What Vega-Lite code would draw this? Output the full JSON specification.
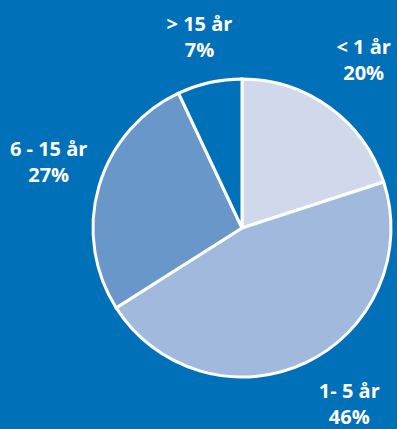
{
  "$schema": "https://vega.github.io/schema/vega-lite/v6.json",
  "width": 300,
  "height": 300,
  "autosize": {"type": "none"},
  "padding": {"left": 92, "top": 78, "right": 5, "bottom": 51},
  "background": "#0070b8",
  "config": {
    "view": {"stroke": null},
    "text": {"font": "Open Sans", "fontWeight": "bold", "fontSize": 20, "lineHeight": 26, "color": "white", "baseline": "middle", "align": "center", "dy": -13}
  },
  "data": {
    "values": [
      {"group": "< 1 år", "pct": 20, "ord": 1, "lbl": ["< 1 år", "20%"]},
      {"group": "1- 5 år", "pct": 46, "ord": 2, "lbl": ["1- 5 år", "46%"]},
      {"group": "6 - 15 år", "pct": 27, "ord": 3, "lbl": ["6 - 15 år", "27%"]},
      {"group": "> 15 år", "pct": 7, "ord": 4, "lbl": ["> 15 år", "7%"]}
    ]
  },
  "encoding": {
    "theta": {"field": "pct", "type": "quantitative", "stack": true},
    "order": {"field": "ord", "type": "quantitative"},
    "text": {"field": "lbl"}
  },
  "layer": [
    {
      "mark": {"type": "arc", "outerRadius": 149, "stroke": "white", "strokeWidth": 3},
      "encoding": {
        "text": null,
        "color": {
          "field": "group",
          "type": "nominal",
          "scale": {
            "domain": ["< 1 år", "1- 5 år", "6 - 15 år", "> 15 år"],
            "range": ["#d0d9ec", "#a1b9dd", "#6a97ca", "#0071b9"]
          },
          "legend": null
        }
      }
    },
    {
      "mark": {"type": "text", "radius": 207},
      "encoding": {
        "opacity": {"condition": {"test": "datum.group == '< 1 år'", "value": 1}, "value": 0}
      }
    },
    {
      "mark": {"type": "text", "radius": 207, "thetaOffset": -0.105},
      "encoding": {
        "opacity": {"condition": {"test": "datum.group == '1- 5 år'", "value": 1}, "value": 0}
      }
    },
    {
      "mark": {"type": "text", "radius": 204, "thetaOffset": 0.042},
      "encoding": {
        "opacity": {"condition": {"test": "datum.group == '6 - 15 år'", "value": 1}, "value": 0}
      }
    },
    {
      "mark": {"type": "text", "radius": 195},
      "encoding": {
        "opacity": {"condition": {"test": "datum.group == '> 15 år'", "value": 1}, "value": 0}
      }
    }
  ]
}
